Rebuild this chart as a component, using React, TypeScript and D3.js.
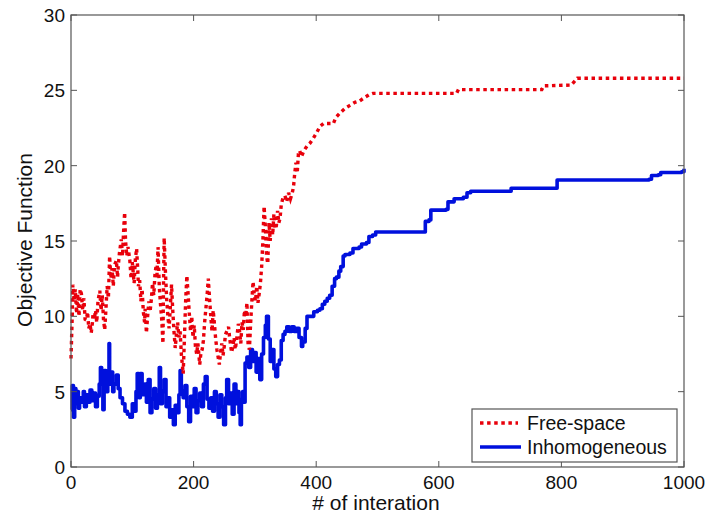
import React from "react";
import * as d3 from "d3";

const xTicks = [0, 200, 400, 600, 800, 1000];
const yTicks = [0, 5, 10, 15, 20, 25, 30];

const freeIter = [0,2,3,5,7,9,11,13,15,17,19,21,23,25,27,29,31,33,35,36,38,40,42,44,47,49,51,53,55,57,59,61,63,65,67,69,71,74,76,77,79,82,84,86,87.5,89,91,93,96,98,100,103,105,107,109,110,112,114,116,118,120,121,123,125,127,129,131,133,135,137,139,140,142,144,146,148,150,151,152,154,156,158,160,162,164,166,168,170,172,174,176,178,180,183,185,187,189,191,193,195,197,199,201,203,205,207,210,212,214,216,218,220,222,224,226,228,230,232,234,236,238,240,242,244,246,248,250,252,254,257,259,262,264,266,268,270,273,275,277,279,281,283,285,287,289,291,293,295,297,299,301,303,305,307,309,311,313,315,317,319,321,323,325,327,329,331,333,335,337,339,341,343,346,349,352,355,358,361,363,365,367,369,371,373,376,380,385,390,395,401,406,412,428,432,439,447,455,463,471,478,486,493,629,632,768,771,816,826,1000];
const freeVal = [7.2,10.0,12.1,11.0,11.8,10.2,11.5,10.0,11.8,11.5,10.4,11.2,9.8,9.75,10.3,9.2,9.5,8.9,9.6,10.2,9.8,10.4,9.6,11.0,11.7,10.4,11.4,9.8,9.1,10.5,12.0,11.2,14.0,12.5,13.2,12.0,13.4,13.7,12.6,13.3,14.2,15.1,14.0,15.8,16.9,15.0,14.0,14.6,13.7,12.5,13.6,12.2,13.8,14.5,13.0,12.0,12.4,11.0,11.8,10.3,9.6,10.5,8.9,10.0,11.0,10.3,11.1,12.2,11.4,12.8,13.4,12.5,14.6,12.0,10.8,9.8,8.2,12.5,15.2,13.0,11.2,10.0,9.2,10.6,12.1,10.4,9.0,7.9,8.8,9.6,8.6,9.0,7.5,6.2,8.5,11.0,12.7,11.5,10.2,9.0,10.0,8.6,9.4,8.0,7.5,8.2,6.8,7.6,7.8,8.4,9.6,10.5,11.4,12.5,11.2,10.0,9.0,10.4,9.5,8.5,7.8,7.3,6.8,7.6,8.2,7.4,8.0,8.8,9.0,9.3,8.5,7.6,8.0,8.6,7.8,8.4,9.5,9.0,8.2,9.6,9.1,10.4,10.0,10.9,8.0,7.8,9.5,11.0,12.3,11.4,11.0,12.0,10.9,11.5,12.2,13.3,15.0,17.3,16.0,14.0,13.5,16.2,15.0,16.5,15.4,16.8,15.8,16.0,17.0,16.2,16.5,17.4,17.9,18.0,17.6,18.2,17.8,18.2,18.6,19.5,20.2,19.5,20.8,21.0,20.6,21.0,21.3,21.5,21.8,22.2,22.6,22.8,22.8,23.2,23.5,23.8,24.0,24.2,24.3,24.5,24.7,24.8,24.8,25.05,25.05,25.3,25.35,25.8,25.8];

const inhomIter = [0,2,4,6,8,10,12,14,17,20,22,25,28,31,34,37,40,43,46,48,50,52,54,57,60,62,63,65,68,70,74,77,80,84,88,92,96,100,103,106,108,111,113,116,120,123,126,129,132,135,138,141,144,146,149,152,155,158,161,164,167,170,173,176,178,180,183,186,189,192,195,198,201,204,207,210,213,216,219,222,225,228,231,234,237,240,243,246,249,252,254,257,260,263,266,269,272,274,276,278,280,282,284,287,290,293,296,299,302,305,308,311,314,317,319,322,325,328,331,334,337,340,343,346,349,352,356,360,364,368,372,376,378,382,385,392,396,402,406,410,414,418,422,426,430,433,437,440,444,447,455,460,470,474,482,486,492,497,575,578,584,587,612,615,622,625,640,646,652,714,718,789,793,943,947,958,962,996,1000];
const inhomVal = [3.8,5.4,3.3,5.2,4.2,5.0,3.9,4.6,4.3,5.0,4.0,4.8,4.3,5.1,4.4,4.9,4.0,4.7,5.5,6.6,5.5,3.8,6.4,5.0,6.0,8.2,5.5,6.3,5.0,5.5,6.1,5.2,4.6,4.2,3.7,3.5,3.3,4.2,3.7,5.0,6.2,4.6,6.2,4.8,5.5,4.3,5.8,3.6,4.5,5.2,3.9,4.8,6.6,4.2,5.0,5.8,4.0,4.6,3.3,3.8,2.8,4.1,3.6,4.8,6.4,5.0,4.6,5.4,4.0,3.0,4.7,4.0,5.2,3.6,4.4,4.9,4.0,5.5,6.0,4.5,3.9,4.6,3.7,5.0,4.2,3.3,4.8,4.0,2.8,4.6,5.8,4.2,4.9,3.5,5.5,4.2,5.0,3.6,2.8,4.5,5.0,4.3,6.9,7.3,6.6,7.8,7.0,7.6,6.3,7.2,5.8,7.5,8.6,9.4,10.0,8.5,7.0,7.8,6.5,6.0,6.8,7.1,8.4,8.8,9.0,9.3,9.0,9.3,9.0,9.2,8.6,8.0,8.3,9.2,10.0,10.0,10.3,10.4,10.5,10.8,11.0,11.2,11.4,12.0,12.5,12.6,13.0,13.3,14.0,14.1,14.2,14.5,14.6,14.8,14.9,15.3,15.4,15.6,15.6,16.3,16.4,17.05,17.1,17.6,17.6,17.8,17.9,18.2,18.3,18.3,18.5,18.5,19.05,19.1,19.35,19.4,19.55,19.6,19.8];

const legendLabels = ["Free-space", "Inhomogeneous"];
const RED = "#e8000b";
const BLUE = "#0010dd";

export default function App() {
  const W = 708, H = 516;
  const L = 71, R = 684, T = 15, B = 467;
  const x = d3.scaleLinear().domain([0, 1000]).range([L, R]);
  const y = d3.scaleLinear().domain([0, 30]).range([B, T]);
  const line = d3.line<[number, number]>().x(d => x(d[0])).y(d => y(d[1]));
  const stepLine = d3.line<[number, number]>().x(d => x(d[0])).y(d => y(d[1])).curve(d3.curveStepAfter);
  const freePts = freeIter.map((t, i) => [t, freeVal[i]] as [number, number]);
  const inhomPts = inhomIter.map((t, i) => [t, inhomVal[i]] as [number, number]);
  const font = "Arial, 'Liberation Sans', sans-serif";
  const axisCol = "#555";
  const tl = 6;
  return (
    <svg width={W} height={H} style={{ position: "absolute", left: 0, top: 0, background: "#fff" }} fontFamily={font}>
      <rect x={0} y={0} width={W} height={H} fill="#fff" />
      <path d={stepLine(inhomPts) || ""} fill="none" stroke={BLUE} strokeWidth={3.6} strokeLinejoin="round" />
      <path d={line(freePts) || ""} fill="none" stroke={RED} strokeWidth={3.4} strokeDasharray="3.5 3.6" />
      <rect x={L} y={T} width={R - L} height={B - T} fill="none" stroke={axisCol} strokeWidth={1.2} />
      {xTicks.map(t => (
        <g key={"x" + t}>
          <line x1={x(t)} x2={x(t)} y1={B} y2={B - tl} stroke={axisCol} />
          <line x1={x(t)} x2={x(t)} y1={T} y2={T + tl} stroke={axisCol} />
          <text x={x(t)} y={489} fontSize={19} textAnchor="middle" fill="#111">{t}</text>
        </g>
      ))}
      {yTicks.map(t => (
        <g key={"y" + t}>
          <line x1={L} x2={L + tl} y1={y(t)} y2={y(t)} stroke={axisCol} />
          <line x1={R} x2={R - tl} y1={y(t)} y2={y(t)} stroke={axisCol} />
          <text x={65} y={y(t) + 7} fontSize={19} textAnchor="end" fill="#111">{t}</text>
        </g>
      ))}
      <text x={376} y={510} fontSize={21} textAnchor="middle" fill="#111"># of interation</text>
      <text transform={`translate(32, 240) rotate(-90)`} fontSize={21} textAnchor="middle" fill="#111">Objective Function</text>
      <g>
        <rect x={472} y={409} width={205} height={53} fill="#fff" stroke={axisCol} strokeWidth={1.2} />
        <line x1={480} x2={518} y1={423} y2={423} stroke={RED} strokeWidth={3.4} strokeDasharray="3.5 3.6" />
        <line x1={480} x2={521} y1={447} y2={447} stroke={BLUE} strokeWidth={3.6} />
        <text x={527} y={430} fontSize={19.5} fill="#111">{legendLabels[0]}</text>
        <text x={527} y={454} fontSize={19.5} fill="#111">{legendLabels[1]}</text>
      </g>
    </svg>
  );
}
